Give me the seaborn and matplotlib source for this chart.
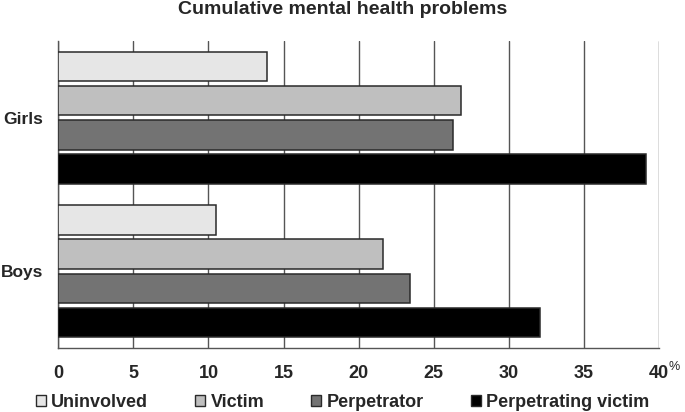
import matplotlib
matplotlib.use("Agg")
import matplotlib.pyplot as plt
import seaborn as sns
import pandas as pd

groups = ["Girls", "Boys"]
statuses = ["Uninvolved", "Victim", "Perpetrator", "Perpetrating victim"]
girls = [13.9, 26.8, 26.3, 39.1]
boys = [10.5, 21.6, 23.4, 32.1]
colors = ["#e6e6e6", "#bfbfbf", "#737373", "#000000"]

rows = []
for g, vals in zip(groups, [girls, boys]):
    for s, v in zip(statuses, vals):
        rows.append({"group": g, "status": s, "value": v})
df = pd.DataFrame(rows)

sns.set_style("white")
plt.rcParams["font.family"] = ["Liberation Sans", "DejaVu Sans"]
plt.rcParams["font.weight"] = "bold"

fig = plt.figure(figsize=(6.85, 4.12), dpi=100)
ax = fig.add_axes([0.0851, 0.1553, 0.877, 0.7452])

sns.barplot(data=df, y="group", x="value", hue="status", order=groups,
            hue_order=statuses, palette=colors, orient="h", width=0.894, gap=0.14,
            edgecolor="#2a2a2a", linewidth=1.1, legend=False, ax=ax, zorder=3)

ax.set_xlim(0, 40)
ax.set_xticks(range(0, 41, 5))
ax.set_xticklabels([str(t) for t in range(0, 41, 5)], fontsize=13, fontweight="bold")
ax.set_ylim(1.5, -0.5)
ax.set_yticks([0, 1])
ax.set_yticklabels(groups, fontsize=12.5, fontweight="bold")
ax.set_yticks([-0.5, 0.5, 1.5], minor=True)
ax.tick_params(axis="y", which="major", length=0, pad=11)
ax.tick_params(axis="y", which="minor", length=4, color="#555555", width=1)
ax.tick_params(axis="x", length=4, color="#555555", width=1, direction="out", pad=8)
ax.set_xlabel("")
ax.set_ylabel("")

ax.grid(axis="x", color="#555555", linewidth=1, zorder=0)
ax.set_axisbelow(True)
for side in ["top", "right"]:
    ax.spines[side].set_visible(False)
for side in ["left", "bottom"]:
    ax.spines[side].set_color("#555555")
    ax.spines[side].set_linewidth(1)

# percent sign next to the last tick label
ax.annotate("%", xy=(1.0, 0), xycoords="axes fraction", xytext=(7, -13.5),
            textcoords="offset points", fontsize=9, fontweight="normal",
            ha="left", va="center")

fig.suptitle("Cumulative mental health problems", fontsize=14, fontweight="bold", y=0.997)

handles = [plt.Rectangle((0, 0), 1, 1, facecolor=c, edgecolor="#2a2a2a", linewidth=1)
           for c in colors]
fig.legend(handles, statuses, loc="center", bbox_to_anchor=(0.5, 0.024), ncol=4,
           frameon=False, prop={"size": 13, "weight": "bold"}, handlelength=0.55,
           handleheight=0.55, handletextpad=0.3, columnspacing=2.6)

fig.savefig("out.png", dpi=100)
